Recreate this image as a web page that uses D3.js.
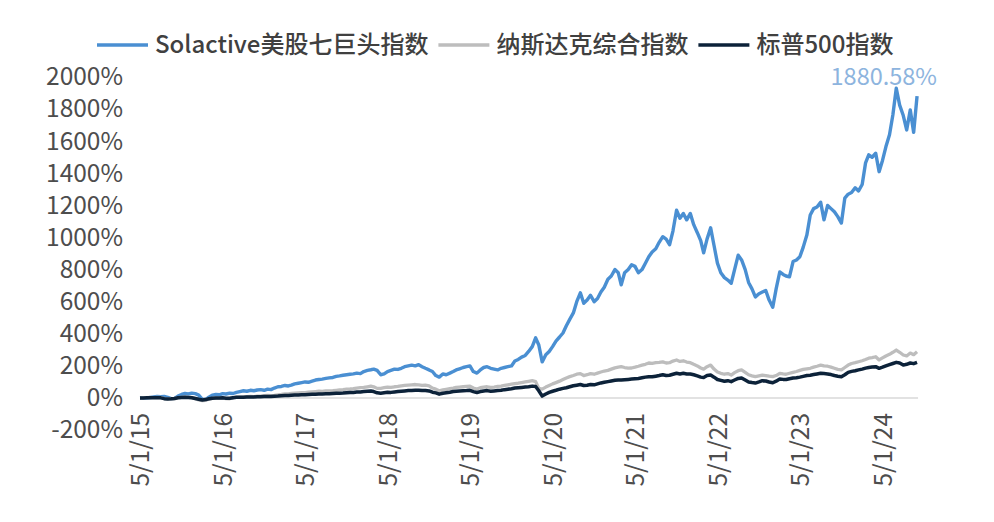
<!DOCTYPE html>
<html>
<head>
<meta charset="utf-8">
<script src="https://cdn.jsdelivr.net/npm/d3@7"></script>
<style>
  html, body { margin: 0; padding: 0; background: #ffffff; }
  svg { display: block; }
  text { font-family: "Noto Sans CJK SC", "Noto Sans", sans-serif; }
</style>
</head>
<body>
<svg id="chart" width="994" height="522"></svg>
<script>
// ---- DATA (semi-monthly observations starting 2015-05-01, cumulative return %) ----
const seriesNames = ["Solactive美股七巨头指数", "纳斯达克综合指数", "标普500指数"];
const startDate = "2015-05-01";
const xTickLabels = ["5/1/15","5/1/16","5/1/17","5/1/18","5/1/19","5/1/20","5/1/21","5/1/22","5/1/23","5/1/24"];
const yTickValues = [-200,0,200,400,600,800,1000,1200,1400,1600,1800,2000];
const endLabel = "1880.58%";

const solactive = [
  0, 1, 0, 3, 6, 9, 8, 10, 4, -4,
  -2, 12, 22, 28, 25, 30, 27, 18, -8, -10,
  5, 18, 22, 20, 27, 25, 30, 28, 35, 40,
  45, 42, 48, 45, 50, 52, 48, 55, 52, 62,
  70, 72, 78, 75, 80, 88, 92, 96, 100, 98,
  105, 112, 115, 118, 122, 125, 128, 135, 138, 142,
  145, 148, 150, 155, 152, 165, 172, 176, 180, 172,
  145, 150, 165, 172, 180, 178, 185, 195, 200, 205,
  200, 208, 195, 185, 175, 165, 140, 130, 150, 145,
  155, 165, 175, 182, 190, 195, 200, 165, 155, 175,
  190, 195, 185, 180, 175, 185, 190, 195, 200, 230,
  240, 255, 265, 290, 320, 375, 330, 225, 270, 290,
  320, 355, 380, 405, 450, 490, 530, 600, 655, 590,
  610, 640, 600, 620, 660, 690, 740, 760, 800, 780,
  705, 780, 800, 830, 820, 780, 800, 840, 880, 910,
  930, 970, 1005, 990, 955, 1040, 1170, 1120, 1150, 1110,
  1150, 1080, 1030, 980, 905, 990, 1060, 950, 840, 780,
  750, 735, 715, 800, 890, 860, 800, 720, 680, 630,
  650, 660, 670, 610, 565, 680, 785, 770, 760, 755,
  850, 860, 880, 940, 1015, 1140, 1180, 1190, 1220, 1110,
  1200, 1180, 1160, 1130, 1090, 1245, 1270, 1280, 1310, 1290,
  1330, 1465, 1515, 1500, 1525, 1410, 1480, 1565, 1640, 1765,
  1930, 1825, 1760, 1670, 1795, 1655, 1880.58
];

const nasdaq = [
  0, 1, 2, 3, 2, 4, 3, -4, -6, -5,
  -4, 2, 4, 5, 4, 3, -4, -12, -16, -14,
  -8, -3, 0, -2, -1, -4, -5, 2, 4, 5,
  6, 8, 10, 9, 11, 12, 14, 16, 15, 17,
  20, 22, 25, 26, 28, 30, 32, 34, 33, 36,
  38, 40, 42, 41, 44, 45, 46, 48, 50, 52,
  55, 56, 58, 62, 64, 66, 70, 74, 70, 60,
  60, 64, 68, 66, 70, 72, 76, 78, 80, 82,
  84, 82, 78, 80, 76, 62, 55, 45, 50, 54,
  58, 62, 66, 68, 70, 72, 74, 62, 56, 64,
  68, 70, 66, 68, 72, 74, 78, 82, 86, 90,
  92, 96, 100, 104, 108, 102, 60, 55, 68, 78,
  88, 96, 105, 115, 125, 133, 140, 148, 152, 140,
  145, 152, 148, 155, 162, 168, 172, 180, 188, 192,
  195, 190, 186, 187, 192, 198, 205, 210, 218, 216,
  220, 222, 225, 218, 220, 230, 237, 228, 232, 224,
  220, 210, 200, 187, 180, 195, 205, 180, 162, 154,
  148, 152, 143, 158, 170, 175, 160, 145, 138, 133,
  138, 143, 140, 136, 133, 140, 154, 150, 148, 154,
  160, 165, 172, 178, 182, 185, 192, 198, 205, 200,
  198, 192, 185, 178, 175, 190, 205, 215, 220, 226,
  232, 240, 248, 252, 257, 237, 250, 262, 272, 285,
  299, 285, 268, 262, 280, 270, 288
];

const sp500 = [
  0, 0, 1, 2, 1, 2, 1, -4, -6, -5,
  -3, 1, 3, 4, 3, 2, -3, -8, -12, -10,
  -5, -2, 0, 0, 1, -1, -2, 2, 4, 4,
  5, 6, 7, 6, 8, 8, 9, 10, 10, 11,
  12, 14, 15, 16, 17, 18, 19, 20, 21, 22,
  23, 24, 25, 25, 26, 27, 28, 29, 30, 31,
  33, 34, 35, 37, 38, 40, 42, 44, 40, 32,
  30, 33, 36, 35, 38, 40, 42, 44, 46, 47,
  48, 48, 46, 47, 44, 36, 32, 24, 30, 33,
  36, 40, 42, 44, 45, 46, 48, 40, 34, 40,
  44, 46, 42, 44, 46, 48, 52, 55, 58, 62,
  64, 66, 68, 70, 74, 72, 45, 12, 25, 35,
  42, 48, 55, 60, 64, 70, 76, 80, 84, 78,
  80, 84, 82, 88, 94, 98, 102, 106, 110, 112,
  112, 114, 116, 118, 120, 122, 126, 130, 133, 132,
  136, 140, 145, 140, 142, 148, 154, 150, 154, 150,
  150, 145, 138, 130, 128, 140, 143, 130, 115, 110,
  104, 108, 102, 112, 122, 125, 112, 100, 96, 93,
  100, 108, 106, 100, 95, 105, 118, 116, 115, 120,
  124, 126, 130, 135, 140, 142, 146, 150, 154, 152,
  150, 146, 140, 136, 133, 145, 160, 166, 170, 175,
  180, 186, 190, 193, 195, 185, 192, 200, 208, 215,
  222, 218, 205, 210, 218, 214, 222
];

const colors = ["#4a8fd2", "#bdbdbd", "#0c2239"];

// ---- BUILD ----
const parse = d3.timeParse("%Y-%m-%d");
const t0 = parse(startDate);
function obsDate(i) {
  const m = Math.floor(i / 2);
  return new Date(t0.getFullYear(), t0.getMonth() + m, (i % 2) ? 16 : 1);
}
const tickDate = s => { const p = s.split("/"); return new Date(2000 + (+p[2]), +p[0] - 1, +p[1]); };

const svg = d3.select("#chart");
const x = d3.scaleTime()
  .domain([tickDate(xTickLabels[0]), tickDate(xTickLabels[xTickLabels.length - 1])])
  .range([140, 882.5]);
const y = d3.scaleLinear().domain([-200, 2000]).range([430.1, 77]);

const xEnd = x(obsDate(solactive.length - 1));

// zero axis line
svg.append("line")
  .attr("x1", 140).attr("x2", xEnd + 1)
  .attr("y1", y(0)).attr("y2", y(0))
  .attr("stroke", "#d9d9d9").attr("stroke-width", 1.5);

// y axis
const yAxis = d3.axisLeft(y).tickValues(yTickValues).tickSize(0).tickPadding(0)
  .tickFormat(d => d + "%");
const gy = svg.append("g").attr("transform", "translate(123,0)").call(yAxis);
gy.select(".domain").remove();
gy.selectAll("text")
  .attr("font-family", '"Noto Sans CJK SC", sans-serif')
  .attr("font-size", 24.5).attr("fill", "#4d4d4d");

// x axis
const xAxis = d3.axisBottom(x).tickValues(xTickLabels.map(tickDate)).tickSize(0)
  .tickFormat((d, i) => xTickLabels[i]);
const gx = svg.append("g").attr("transform", `translate(0,${y(0)})`).call(xAxis);
gx.select(".domain").remove();
gx.selectAll("text")
  .attr("font-family", '"Noto Sans CJK SC", sans-serif')
  .attr("font-size", 24.5).attr("fill", "#4d4d4d")
  .attr("transform", "rotate(-90)")
  .attr("text-anchor", "end")
  .attr("x", -15).attr("y", 0).attr("dy", "0.35em");

// lines
const allSeries = [solactive, nasdaq, sp500];
const line = d3.line().x((d, i) => x(obsDate(i))).y(d => y(d)).curve(d3.curveLinear);
const widths = [3.4, 3.3, 3.5];
allSeries.forEach((s, k) => {
  svg.append("path").datum(s)
    .attr("fill", "none").attr("stroke", colors[k])
    .attr("stroke-width", widths[k]).attr("stroke-linejoin", "round")
    .attr("d", line);
});

// end label
svg.append("text")
  .attr("x", 937).attr("y", 85)
  .attr("text-anchor", "end")
  .attr("font-size", 23.5).attr("fill", "#8db4de")
  .text(endLabel);

// legend
const lg = svg.append("g");
let cx = 97;
seriesNames.forEach((name, k) => {
  lg.append("line").attr("x1", cx).attr("x2", cx + 51).attr("y1", 45).attr("y2", 45)
    .attr("stroke", colors[k]).attr("stroke-width", 3.5);
  const t = lg.append("text").attr("x", cx + 58).attr("y", 52.5)
    .attr("font-size", 24).attr("font-weight", 500).attr("fill", "#404040").text(name);
  cx += 58 + t.node().getComputedTextLength() + 10;
});
</script>
</body>
</html>
